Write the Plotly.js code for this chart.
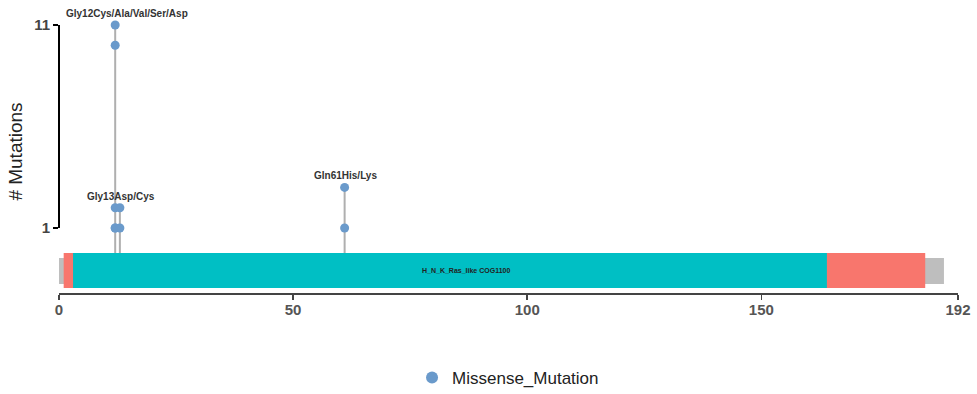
<!DOCTYPE html>
<html>
<head>
<meta charset="utf-8">
<script src="https://cdn.plot.ly/plotly-3.0.1.min.js"></script>
<style>html,body{margin:0;padding:0;background:#fff;}#chart{width:977px;height:394px;}</style>
</head>
<body>
<div id="chart"></div>
<script>
// ---- data ----
const mutPositions = [12, 12, 12, 12, 12, 13, 13, 61, 61];
const mutCounts    = [11, 10, 2, 1, 1, 2, 1, 3, 1];
const mutClass     = 'Missense_Mutation';
const labelPositions = [12, 13, 61];
const labelTexts = ['Gly12Cys/Ala/Val/Ser/Asp', 'Gly13Asp/Cys', 'Gln61His/Lys'];
const proteinLength = 189;
const domainNames  = ['RAS', 'H_N_K_Ras_like COG1100'];
const domainStarts = [1, 3];
const domainEnds   = [185, 164];
const domainColors = ['#F8766D', '#00BFC4'];
const xTicks = [0, 50, 100, 150, 192];
const yTicks = [1, 11];

// ---- styling constants ----
const FONT = 'Liberation Sans, Arial, sans-serif';
const dotColor = '#6A9ACB';
const stemBase = -0.232;
const domY = [-1.956, -0.232];
const backY = [-1.759, -0.478];
const labelNudge = [12, 1, 1];

// stems: one per position from max count down to the domain top
const uniq = [...new Set(mutPositions)];
const stemX = [], stemY = [];
uniq.forEach(p => {
  const m = Math.max(...mutCounts.filter((c, i) => mutPositions[i] === p));
  stemX.push(p, p, null);
  stemY.push(m, stemBase, null);
});

const traces = [
  {x: stemX, y: stemY, mode: 'lines', line: {color: '#AFAFAF', width: 2}, showlegend: false, hoverinfo: 'skip'},
  {x: mutPositions, y: mutCounts, mode: 'markers', marker: {color: dotColor, size: 9}, showlegend: false, name: mutClass},
  {x: [null], y: [null], mode: 'markers', marker: {color: dotColor, size: 12}, name: mutClass, showlegend: true}
];

const shapes = [
  {type: 'rect', xref: 'x', yref: 'y', x0: 0, x1: proteinLength, y0: backY[0], y1: backY[1], fillcolor: '#BEBEBE', line: {width: 0}},
];
domainStarts.forEach((s, i) => {
  shapes.push({type: 'rect', xref: 'x', yref: 'y', x0: s, x1: domainEnds[i], y0: domY[0], y1: domY[1], fillcolor: domainColors[i], line: {width: 0}});
});
shapes.push({type: 'line', xref: 'paper', yref: 'y', x0: 0, x1: 0, y0: yTicks[0], y1: yTicks[yTicks.length - 1], line: {color: '#000', width: 2}});

const annotations = labelPositions.map((p, i) => ({
  x: p, y: Math.max(...mutCounts.filter((c, j) => mutPositions[j] === p)),
  xref: 'x', yref: 'y', text: labelTexts[i], showarrow: false,
  yanchor: 'bottom', yshift: 4, xshift: labelNudge[i],
  font: {family: FONT, size: 10, color: '#333', weight: 'bold'}
}));
annotations.push({
  x: (domainStarts[1] + domainEnds[1]) / 2, y: (domY[0] + domY[1]) / 2, xref: 'x', yref: 'y',
  text: domainNames[1], showarrow: false, xshift: 16,
  font: {family: FONT, size: 7, color: '#222', weight: 'bold'}
});

const layout = {
  width: 977, height: 394, autosize: false,
  margin: {l: 59, r: 19, t: 10, b: 101},
  paper_bgcolor: '#fff', plot_bgcolor: '#fff',
  font: {family: FONT},
  xaxis: {
    range: [0, 192], tickvals: xTicks, ticktext: xTicks.map(String),
    showline: true, linecolor: '#444', linewidth: 1.5, ticks: 'outside', ticklen: 5, tickcolor: '#444', tickwidth: 1.5,
    tickfont: {family: FONT, size: 15, color: '#555', weight: 'bold'}, ticklabelstandoff: -3,
    showgrid: false, zeroline: false, automargin: false
  },
  yaxis: {
    range: [-2.202, 11.739], tickvals: yTicks, ticktext: yTicks.map(String),
    showline: false, ticks: 'outside', ticklen: 5, tickwidth: 2, tickcolor: '#000',
    tickfont: {family: FONT, size: 15, color: '#444', weight: 'bold'},
    showgrid: false, zeroline: false, automargin: false,
    title: {text: '# Mutations', font: {family: FONT, size: 19, color: '#222'}, standoff: 6}
  },
  showlegend: true,
  legend: {x: 0.3927, xanchor: 'left', yref: 'container', y: 0.0406, yanchor: 'middle', orientation: 'h',
    font: {family: FONT, size: 17, color: '#222'}, bgcolor: 'rgba(0,0,0,0)'},
  shapes: shapes, annotations: annotations
};

Plotly.newPlot('chart', traces, layout, {displayModeBar: false, staticPlot: true});
</script>
</body>
</html>
